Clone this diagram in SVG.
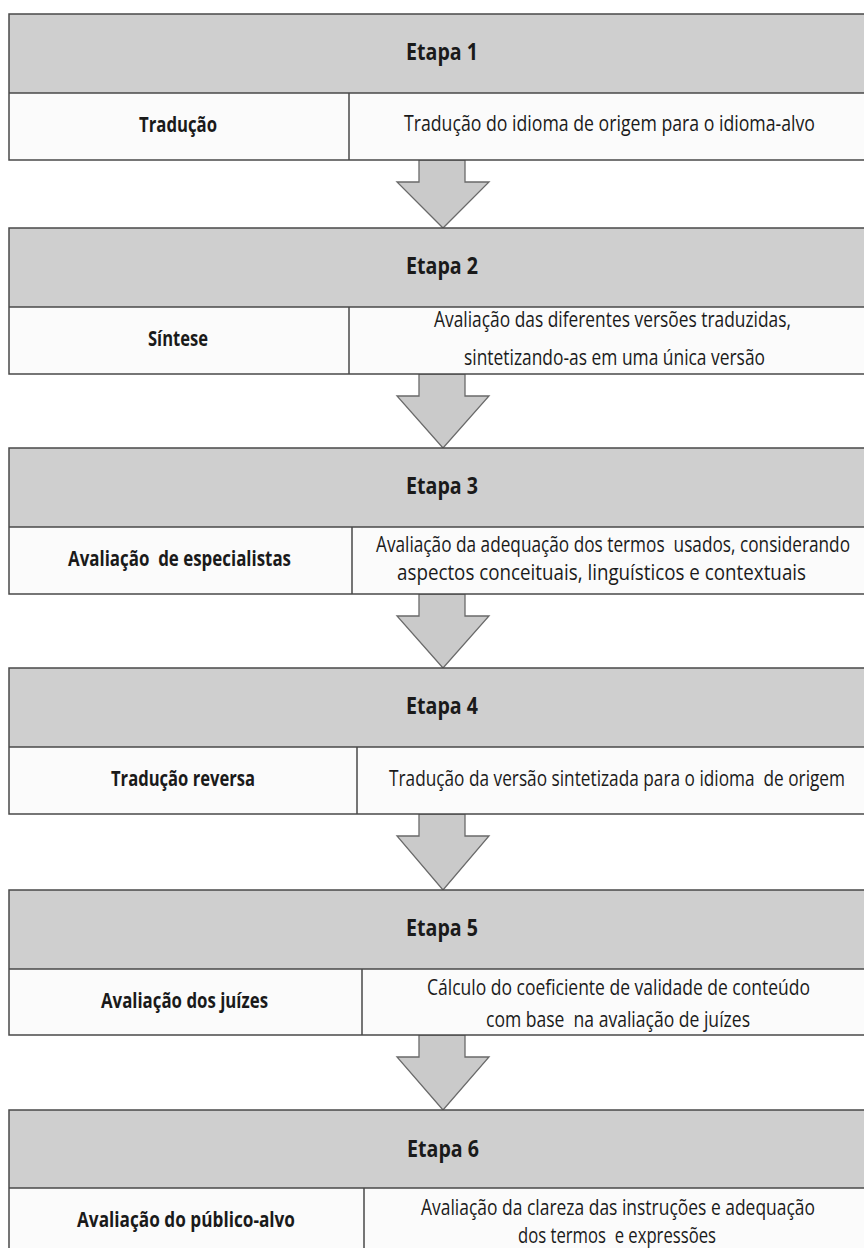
<svg xmlns="http://www.w3.org/2000/svg" width="864" height="1248" viewBox="0 0 864 1248">
<style>
.bg{fill:#ffffff}
.hd{fill:#cfcfcf}
.rw{fill:#fbfbfb}
.ln{fill:none;stroke:#4a4a4a;stroke-width:1.5}
.ar{fill:#cacaca;stroke:#6a6a6a;stroke-width:1.3;stroke-linejoin:miter}
text{font-family:"Open Sans","Liberation Sans",sans-serif;fill:#1a1a1a;text-anchor:middle;white-space:pre}
.h{font-size:19px;font-weight:bold}
.l{font-size:17.5px;font-weight:bold}
.r{font-size:17.5px}
</style>
<rect class="bg" x="0" y="0" width="864" height="1248"/>
<g id="connectors">
<polygon class="ar" points="419,160 465,160 465,182 489,182 443,228 397,182 419,182"/>
<polygon class="ar" points="419,374 465,374 465,396 489,396 443,448 397,396 419,396"/>
<polygon class="ar" points="419,594 465,594 465,616 489,616 443,668 397,616 419,616"/>
<polygon class="ar" points="419,814 465,814 465,836 489,836 443,890 397,836 419,836"/>
<polygon class="ar" points="419,1035 465,1035 465,1057 489,1057 443,1110 397,1057 419,1057"/>
</g>
<g id="etapa1">
<rect class="hd" x="9" y="14" width="855" height="79"/>
<rect class="rw" x="9" y="93" width="855" height="67"/>
<path class="ln" d="M864,14 H9 V160 H864 M9,93 H864 M349,93 V160"/>
<text class="h" transform="translate(442,60) scale(1,1.25)" textLength="72" lengthAdjust="spacingAndGlyphs">Etapa 1</text>
<text class="l" transform="translate(178,132) scale(1,1.25)" textLength="78" lengthAdjust="spacingAndGlyphs">Tradução</text>
<text class="r" transform="translate(609.5,131) scale(1,1.25)" textLength="411" lengthAdjust="spacingAndGlyphs">Tradução do idioma de origem para o idioma-alvo</text>
</g>
<g id="etapa2">
<rect class="hd" x="9" y="228" width="855" height="79"/>
<rect class="rw" x="9" y="307" width="855" height="67"/>
<path class="ln" d="M864,228 H9 V374 H864 M9,307 H864 M349,307 V374"/>
<text class="h" transform="translate(442,274) scale(1,1.25)" textLength="72" lengthAdjust="spacingAndGlyphs">Etapa 2</text>
<text class="l" transform="translate(178,346) scale(1,1.25)" textLength="60" lengthAdjust="spacingAndGlyphs">Síntese</text>
<text class="r" transform="translate(612.5,327) scale(1,1.25)" textLength="357" lengthAdjust="spacingAndGlyphs">Avaliação das diferentes versões traduzidas,</text>
<text class="r" transform="translate(614.5,365) scale(1,1.25)" textLength="301" lengthAdjust="spacingAndGlyphs">sintetizando-as em uma única versão</text>
</g>
<g id="etapa3">
<rect class="hd" x="9" y="448" width="855" height="79"/>
<rect class="rw" x="9" y="527" width="855" height="67"/>
<path class="ln" d="M864,448 H9 V594 H864 M9,527 H864 M352,527 V594"/>
<text class="h" transform="translate(442,494) scale(1,1.25)" textLength="72" lengthAdjust="spacingAndGlyphs">Etapa 3</text>
<text class="l" transform="translate(179.5,566) scale(1,1.25)" textLength="223" lengthAdjust="spacingAndGlyphs">Avaliação  de especialistas</text>
<text class="r" transform="translate(613,552) scale(1,1.25)" textLength="474" lengthAdjust="spacingAndGlyphs">Avaliação da adequação dos termos  usados, considerando</text>
<text class="r" transform="translate(601.5,580) scale(1,1.25)" textLength="409" lengthAdjust="spacingAndGlyphs">aspectos conceituais, linguísticos e contextuais</text>
</g>
<g id="etapa4">
<rect class="hd" x="9" y="668" width="855" height="79"/>
<rect class="rw" x="9" y="747" width="855" height="67"/>
<path class="ln" d="M864,668 H9 V814 H864 M9,747 H864 M357,747 V814"/>
<text class="h" transform="translate(442,714) scale(1,1.25)" textLength="72" lengthAdjust="spacingAndGlyphs">Etapa 4</text>
<text class="l" transform="translate(183,786) scale(1,1.25)" textLength="144" lengthAdjust="spacingAndGlyphs">Tradução reversa</text>
<text class="r" transform="translate(617,786) scale(1,1.25)" textLength="456" lengthAdjust="spacingAndGlyphs">Tradução da versão sintetizada para o idioma  de origem</text>
</g>
<g id="etapa5">
<rect class="hd" x="9" y="890" width="855" height="79"/>
<rect class="rw" x="9" y="969" width="855" height="66"/>
<path class="ln" d="M864,890 H9 V1035 H864 M9,969 H864 M362,969 V1035"/>
<text class="h" transform="translate(442,936) scale(1,1.25)" textLength="72" lengthAdjust="spacingAndGlyphs">Etapa 5</text>
<text class="l" transform="translate(184.5,1008) scale(1,1.25)" textLength="167" lengthAdjust="spacingAndGlyphs">Avaliação dos juízes</text>
<text class="r" transform="translate(618.5,995) scale(1,1.25)" textLength="383" lengthAdjust="spacingAndGlyphs">Cálculo do coeficiente de validade de conteúdo</text>
<text class="r" transform="translate(618,1027) scale(1,1.25)" textLength="264" lengthAdjust="spacingAndGlyphs">com base  na avaliação de juízes</text>
</g>
<g id="etapa6">
<rect class="hd" x="9" y="1110" width="855" height="78"/>
<rect class="rw" x="9" y="1188" width="855" height="60"/>
<path class="ln" d="M864,1110 H9 V1248 M9,1188 H864 M364,1188 V1248"/>
<text class="h" transform="translate(443,1157) scale(1,1.25)" textLength="72" lengthAdjust="spacingAndGlyphs">Etapa 6</text>
<text class="l" transform="translate(186,1227) scale(1,1.25)" textLength="218" lengthAdjust="spacingAndGlyphs">Avaliação do público-alvo</text>
<text class="r" transform="translate(618,1215) scale(1,1.25)" textLength="394" lengthAdjust="spacingAndGlyphs">Avaliação da clareza das instruções e adequação</text>
<text class="r" transform="translate(617,1243) scale(1,1.25)" textLength="198" lengthAdjust="spacingAndGlyphs">dos termos  e expressões</text>
</g>
</svg>
